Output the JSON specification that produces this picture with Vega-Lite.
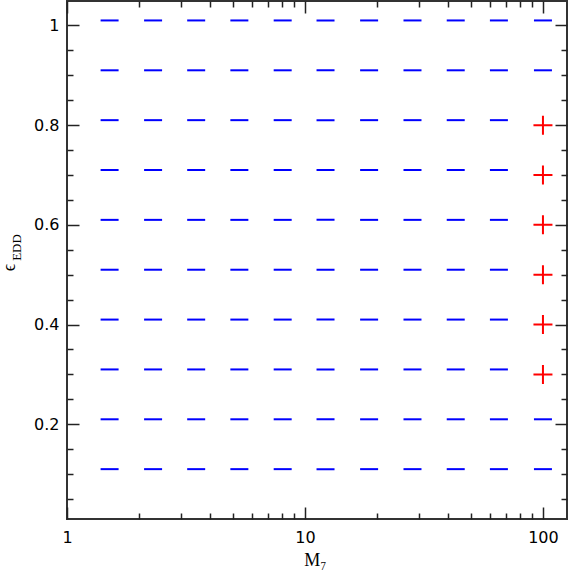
{
  "$schema": "https://vega.github.io/schema/vega-lite/v6.json",
  "width": 500,
  "height": 518,
  "autosize": {"type": "none"},
  "padding": {"left": 67, "top": 1, "right": 1, "bottom": 55},
  "background": "white",
  "config": {
    "view": {"stroke": "#333333", "strokeWidth": 2},
    "axis": {
      "domain": false,
      "grid": false,
      "tickColor": "#222222",
      "tickWidth": 1.5,
      "labelFont": "DejaVu Sans",
      "labelFontSize": 16,
      "labelColor": "#000000",
      "titleFont": "Liberation Serif",
      "titleColor": "#000000",
      "titleFontWeight": "normal"
    }
  },
  "datasets": {
    "blue": [
      {"M": 1.51, "eps": 0.11}, {"M": 2.30, "eps": 0.11}, {"M": 3.49, "eps": 0.11}, {"M": 5.30, "eps": 0.11}, {"M": 8.06, "eps": 0.11}, {"M": 12.2, "eps": 0.11}, {"M": 18.6, "eps": 0.11}, {"M": 28.3, "eps": 0.11}, {"M": 43.0, "eps": 0.11}, {"M": 65.3, "eps": 0.11}, {"M": 100, "eps": 0.11},
      {"M": 1.51, "eps": 0.21}, {"M": 2.30, "eps": 0.21}, {"M": 3.49, "eps": 0.21}, {"M": 5.30, "eps": 0.21}, {"M": 8.06, "eps": 0.21}, {"M": 12.2, "eps": 0.21}, {"M": 18.6, "eps": 0.21}, {"M": 28.3, "eps": 0.21}, {"M": 43.0, "eps": 0.21}, {"M": 65.3, "eps": 0.21}, {"M": 100, "eps": 0.21},
      {"M": 1.51, "eps": 0.31}, {"M": 2.30, "eps": 0.31}, {"M": 3.49, "eps": 0.31}, {"M": 5.30, "eps": 0.31}, {"M": 8.06, "eps": 0.31}, {"M": 12.2, "eps": 0.31}, {"M": 18.6, "eps": 0.31}, {"M": 28.3, "eps": 0.31}, {"M": 43.0, "eps": 0.31}, {"M": 65.3, "eps": 0.31},
      {"M": 1.51, "eps": 0.41}, {"M": 2.30, "eps": 0.41}, {"M": 3.49, "eps": 0.41}, {"M": 5.30, "eps": 0.41}, {"M": 8.06, "eps": 0.41}, {"M": 12.2, "eps": 0.41}, {"M": 18.6, "eps": 0.41}, {"M": 28.3, "eps": 0.41}, {"M": 43.0, "eps": 0.41}, {"M": 65.3, "eps": 0.41},
      {"M": 1.51, "eps": 0.51}, {"M": 2.30, "eps": 0.51}, {"M": 3.49, "eps": 0.51}, {"M": 5.30, "eps": 0.51}, {"M": 8.06, "eps": 0.51}, {"M": 12.2, "eps": 0.51}, {"M": 18.6, "eps": 0.51}, {"M": 28.3, "eps": 0.51}, {"M": 43.0, "eps": 0.51}, {"M": 65.3, "eps": 0.51},
      {"M": 1.51, "eps": 0.61}, {"M": 2.30, "eps": 0.61}, {"M": 3.49, "eps": 0.61}, {"M": 5.30, "eps": 0.61}, {"M": 8.06, "eps": 0.61}, {"M": 12.2, "eps": 0.61}, {"M": 18.6, "eps": 0.61}, {"M": 28.3, "eps": 0.61}, {"M": 43.0, "eps": 0.61}, {"M": 65.3, "eps": 0.61},
      {"M": 1.51, "eps": 0.71}, {"M": 2.30, "eps": 0.71}, {"M": 3.49, "eps": 0.71}, {"M": 5.30, "eps": 0.71}, {"M": 8.06, "eps": 0.71}, {"M": 12.2, "eps": 0.71}, {"M": 18.6, "eps": 0.71}, {"M": 28.3, "eps": 0.71}, {"M": 43.0, "eps": 0.71}, {"M": 65.3, "eps": 0.71},
      {"M": 1.51, "eps": 0.81}, {"M": 2.30, "eps": 0.81}, {"M": 3.49, "eps": 0.81}, {"M": 5.30, "eps": 0.81}, {"M": 8.06, "eps": 0.81}, {"M": 12.2, "eps": 0.81}, {"M": 18.6, "eps": 0.81}, {"M": 28.3, "eps": 0.81}, {"M": 43.0, "eps": 0.81}, {"M": 65.3, "eps": 0.81},
      {"M": 1.51, "eps": 0.91}, {"M": 2.30, "eps": 0.91}, {"M": 3.49, "eps": 0.91}, {"M": 5.30, "eps": 0.91}, {"M": 8.06, "eps": 0.91}, {"M": 12.2, "eps": 0.91}, {"M": 18.6, "eps": 0.91}, {"M": 28.3, "eps": 0.91}, {"M": 43.0, "eps": 0.91}, {"M": 65.3, "eps": 0.91}, {"M": 100, "eps": 0.91},
      {"M": 1.51, "eps": 1.01}, {"M": 2.30, "eps": 1.01}, {"M": 3.49, "eps": 1.01}, {"M": 5.30, "eps": 1.01}, {"M": 8.06, "eps": 1.01}, {"M": 12.2, "eps": 1.01}, {"M": 18.6, "eps": 1.01}, {"M": 28.3, "eps": 1.01}, {"M": 43.0, "eps": 1.01}, {"M": 65.3, "eps": 1.01}, {"M": 100, "eps": 1.01}
    ],
    "red": [
      {"M": 100, "eps": 0.3}, {"M": 100, "eps": 0.4}, {"M": 100, "eps": 0.5},
      {"M": 100, "eps": 0.6}, {"M": 100, "eps": 0.7}, {"M": 100, "eps": 0.8}
    ]
  },
  "resolve": {"axis": {"x": "independent", "y": "independent"}},
  "layer": [
    {
      "data": {"name": "blue"},
      "mark": {"type": "tick", "orient": "horizontal", "size": 18, "thickness": 2, "color": "#0000ff", "opacity": 1},
      "encoding": {
        "x": {"field": "M", "type": "quantitative",
          "scale": {"type": "log", "domain": [1, 126.2], "nice": false},
          "axis": {"orient": "bottom", "values": [1, 10, 100], "format": "~g", "tickSize": -12, "labelPadding": 22,
            "title": "M₇", "titleFontSize": 18, "titleX": 248, "titleY": 32, "titleBaseline": "top", "titleAlign": "center", "labelFlush": false}},
        "y": {"field": "eps", "type": "quantitative",
          "scale": {"domain": [0.01, 1.049], "nice": false, "zero": false},
          "axis": {"orient": "left", "values": [0.2, 0.4, 0.6, 0.8, 1], "format": "~g", "tickSize": -12, "labelPadding": 20,
            "title": "ϵ", "titleFontSize": 18, "titleX": -58, "titleY": 266, "titleAngle": -90, "titleAlign": "center", "titleBaseline": "middle", "labelFlush": false}}
      }
    },
    {
      "data": {"name": "red"},
      "mark": {"type": "point", "shape": "M-1,0H1M0,-1V1", "size": 361, "filled": false, "color": "#ff0000", "strokeWidth": 2, "opacity": 1},
      "encoding": {
        "x": {"field": "M", "type": "quantitative",
          "scale": {"type": "log", "domain": [1, 126.2], "nice": false},
          "axis": {"orient": "bottom", "values": [2, 3, 4, 5, 6, 7, 8, 9, 20, 30, 40, 50, 60, 70, 80, 90], "tickSize": -6, "labels": false, "title": null}},
        "y": {"field": "eps", "type": "quantitative",
          "scale": {"domain": [0.01, 1.049], "nice": false, "zero": false},
          "axis": {"orient": "left", "values": [0.05, 0.1, 0.15, 0.25, 0.3, 0.35, 0.45, 0.5, 0.55, 0.65, 0.7, 0.75, 0.85, 0.9, 0.95], "tickSize": -6, "labels": false,
            "title": "EDD", "titleFontSize": 13, "titleX": -51, "titleY": 246, "titleAngle": -90, "titleAlign": "center", "titleBaseline": "middle"}}
      }
    },
    {
      "data": {"name": "red"},
      "mark": {"type": "point", "opacity": 0},
      "encoding": {
        "x": {"field": "M", "type": "quantitative",
          "scale": {"type": "log", "domain": [1, 126.2], "nice": false},
          "axis": {"orient": "top", "values": [1, 10, 100], "tickSize": -12, "labels": false, "title": null}},
        "y": {"field": "eps", "type": "quantitative",
          "scale": {"domain": [0.01, 1.049], "nice": false, "zero": false},
          "axis": {"orient": "right", "values": [0.2, 0.4, 0.6, 0.8, 1], "tickSize": -12, "labels": false, "title": null}}
      }
    },
    {
      "data": {"name": "red"},
      "mark": {"type": "point", "opacity": 0},
      "encoding": {
        "x": {"field": "M", "type": "quantitative",
          "scale": {"type": "log", "domain": [1, 126.2], "nice": false},
          "axis": {"orient": "top", "values": [2, 3, 4, 5, 6, 7, 8, 9, 20, 30, 40, 50, 60, 70, 80, 90], "tickSize": -6, "labels": false, "title": null}},
        "y": {"field": "eps", "type": "quantitative",
          "scale": {"domain": [0.01, 1.049], "nice": false, "zero": false},
          "axis": {"orient": "right", "values": [0.05, 0.1, 0.15, 0.25, 0.3, 0.35, 0.45, 0.5, 0.55, 0.65, 0.7, 0.75, 0.85, 0.9, 0.95], "tickSize": -6, "labels": false, "title": null}}
      }
    }
  ]
}
